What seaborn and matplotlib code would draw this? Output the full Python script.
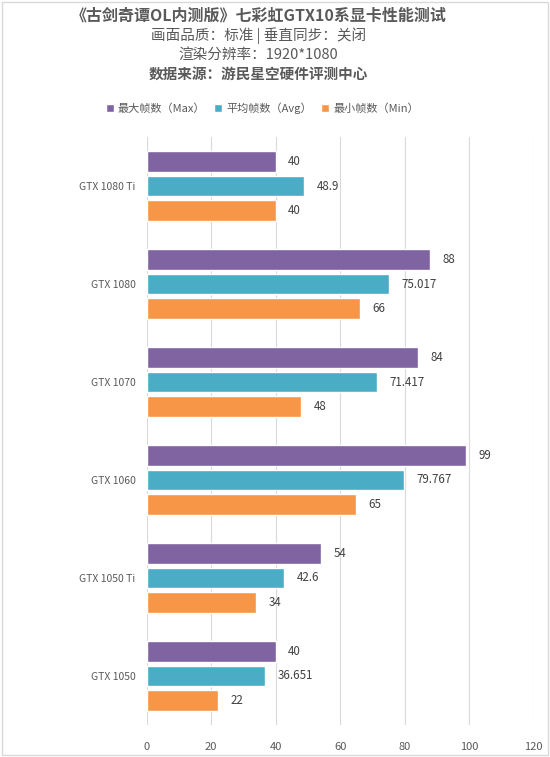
import numpy as np
import pandas as pd
import matplotlib.pyplot as plt
import seaborn as sns

cards = ['GTX 1080 Ti', 'GTX 1080', 'GTX 1070', 'GTX 1060', 'GTX 1050 Ti', 'GTX 1050']
max_fps = [40, 88, 84, 99, 54, 40]
avg_fps = [48.9, 75.017, 71.417, 79.767, 42.6, 36.651]
min_fps = [40, 66, 48, 65, 34, 22]
series = ['最大帧数（Max）', '平均帧数（Avg）', '最小帧数（Min）']
avg_labels = ['48.9', '75.017', '71.417', '79.767', '42.6', '36.651']
xticks = [0, 20, 40, 60, 80, 100, 120]

sns.set_style('white')
plt.rcParams['font.family'] = ['Noto Sans CJK SC', 'DejaVu Sans']

rows = []
for i, c in enumerate(cards):
    rows.append([c, series[0], max_fps[i]])
    rows.append([c, series[1], avg_fps[i]])
    rows.append([c, series[2], min_fps[i]])
df = pd.DataFrame(rows, columns=['card', 'series', 'fps'])

colors = ['#8064A2', '#4BACC6', '#F79646']
txt = '#595959'

fig = plt.figure(figsize=(5.5, 7.57), dpi=100)
ax = fig.add_axes([0.2667, 0.0423, 0.7036, 0.7767])

sns.barplot(data=df, y='card', x='fps', hue='series', orient='h', palette=colors,
            width=0.75, gap=0.18, saturation=1, ax=ax, legend=True)

ax.set_xlim(0, 120)
ax.set_xticks(xticks)
ax.set_ylim(5.5, -0.5)
ax.grid(axis='x', color='#D9D9D9', linewidth=0.8)
ax.set_axisbelow(True)
for s in ax.spines.values():
    s.set_visible(False)
ax.tick_params(axis='both', length=0, colors=txt, labelsize=8)
ax.tick_params(axis='y', labelsize=7.5, pad=8)
ax.tick_params(axis='x', pad=12)
ax.set_xlabel('')
ax.set_ylabel('')

labels_all = [[str(v) for v in max_fps], avg_labels, [str(v) for v in min_fps]]
for cont, labs in zip(ax.containers, labels_all):
    ax.bar_label(cont, labels=labs, padding=9, fontsize=8.3, color='#404040')

handles, _ = ax.get_legend_handles_labels()
ax.legend(handles, series, loc='center', bbox_to_anchor=(0.477, 1 - 108 / 757),
          bbox_transform=fig.transFigure, ncol=3, frameon=False, fontsize=8,
          handlelength=0.7, handleheight=0.7, handletextpad=0.4, columnspacing=0.8,
          labelcolor=txt)

fig.text(0.47, 1 - 16 / 757, '《古剑奇谭OL内测版》七彩虹GTX10系显卡性能测试', ha='center', va='center',
         fontsize=11.5, fontweight='bold', color=txt)
fig.text(0.47, 1 - 36 / 757, '画面品质：标准 | 垂直同步：关闭', ha='center', va='center',
         fontsize=10.5, color=txt)
fig.text(0.47, 1 - 55 / 757, '渲染分辨率：1920*1080', ha='center', va='center',
         fontsize=10.5, color=txt)
fig.text(0.47, 1 - 74 / 757, '数据来源：游民星空硬件评测中心', ha='center', va='center',
         fontsize=10.5, fontweight='bold', color=txt)

fig.patches.append(plt.Rectangle((0.003, 0.003), 0.994, 0.994, transform=fig.transFigure,
                                 fill=False, edgecolor='#D9D9D9', linewidth=1))

fig.savefig('out.png', dpi=100)
